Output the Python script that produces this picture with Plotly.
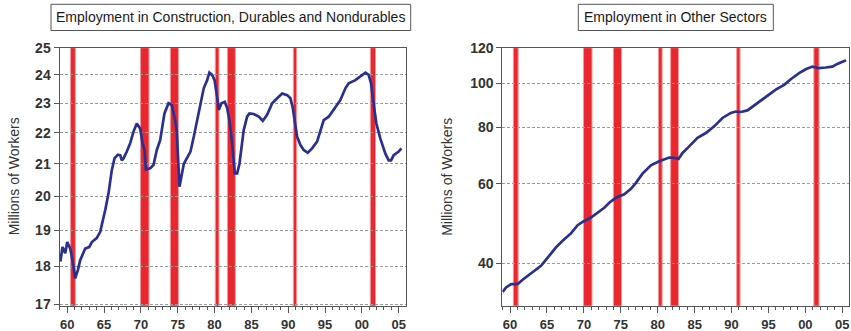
import math
import plotly.graph_objects as go

W, H = 851, 331

# Employment in construction, durables and nondurables (millions of workers)
cdn_year = [1959.07, 1959.36, 1959.73, 1960.0, 1960.4, 1960.72, 1961.08, 1961.44, 1961.76,
            1962.44, 1962.98, 1963.34, 1964.0, 1964.48, 1965.16, 1965.6, 1966.05, 1966.42,
            1966.87, 1967.2, 1967.41, 1967.64, 1968.09, 1968.55, 1969.0, 1969.44, 1969.9,
            1970.22, 1970.49, 1970.67, 1971.26, 1971.71, 1972.16, 1972.62, 1973.2, 1973.75,
            1974.19, 1974.65, 1974.87, 1975.05, 1975.24, 1975.83, 1976.28, 1976.73, 1977.18,
            1977.64, 1978.09, 1978.53, 1978.99, 1979.3, 1979.67, 1980.0, 1980.35, 1980.57,
            1980.94, 1981.38, 1981.71, 1982.02, 1982.39, 1982.74, 1983.07, 1983.38, 1983.96,
            1984.42, 1984.74, 1985.32, 1986.0, 1986.54, 1987.14, 1987.82, 1988.5, 1989.18,
            1989.86, 1990.3, 1990.6, 1990.98, 1991.21, 1991.66, 1992.1, 1992.65, 1993.24,
            1993.92, 1994.37, 1994.82, 1995.5, 1996.18, 1997.08, 1997.76, 1998.21, 1999.12,
            1999.8, 2000.48, 2000.92, 2001.25, 2001.52, 2001.97, 2002.51, 2003.19, 2003.64,
            2003.96, 2004.32, 2005.0, 2005.37]
cdn_value = [18.13, 18.53, 18.36, 18.67, 18.49, 18.17, 17.68, 17.90, 18.17,
             18.49, 18.53, 18.67, 18.78, 18.96, 19.59, 20.08, 20.80, 21.17,
             21.29, 21.27, 21.11, 21.17, 21.39, 21.66, 22.04, 22.31, 22.14,
             21.66, 21.44, 20.82, 20.86, 20.96, 21.44, 21.76, 22.65, 23.00,
             22.94, 22.42, 22.04, 21.00, 20.29, 21.00, 21.22, 21.39, 21.87,
             22.42, 23.00, 23.52, 23.81, 24.08, 24.00, 23.81, 23.22, 22.77,
             23.00, 23.05, 22.83, 22.42, 21.66, 20.70, 20.70, 21.00, 22.09,
             22.54, 22.65, 22.63, 22.54, 22.40, 22.60, 23.00, 23.17, 23.34,
             23.28, 23.17, 22.87, 22.20, 21.87, 21.60, 21.44, 21.35, 21.49,
             21.71, 22.09, 22.42, 22.54, 22.77, 23.11, 23.52, 23.70, 23.81,
             23.93, 24.08, 24.00, 23.70, 23.11, 22.31, 21.81, 21.32, 21.11,
             21.11, 21.27, 21.39, 21.49]

# Employment in other sectors (millions of workers)
oth_year = [1959.0, 1959.46, 1960.14, 1961.03, 1961.7, 1963.06, 1964.19, 1965.32, 1966.22,
            1967.12, 1968.25, 1969.15, 1969.82, 1970.96, 1971.64, 1972.76, 1973.44, 1974.34,
            1975.47, 1976.37, 1977.05, 1977.94, 1979.08, 1980.2, 1981.56, 1982.23, 1982.82,
            1983.36, 1984.26, 1985.39, 1986.52, 1987.65, 1988.77, 1989.9, 1990.58, 1991.26,
            1992.15, 1993.5, 1994.64, 1995.99, 1997.12, 1998.02, 1999.15, 2000.05, 2000.95,
            2001.85, 2002.76, 2003.65, 2004.33, 2005.24, 2005.5]
oth_value = [34.6, 35.4, 36.0, 36.0, 36.8, 38.2, 39.5, 41.6, 43.4,
             44.9, 46.6, 48.6, 49.4, 50.5, 51.4, 53.1, 54.5, 55.9,
             56.9, 58.5, 60.3, 63.2, 65.9, 67.3, 68.6, 68.5, 68.1,
             70.2, 72.6, 75.8, 77.7, 80.4, 83.9, 86.1, 86.7, 86.5,
             87.2, 90.5, 93.6, 96.9, 99.3, 102.2, 105.4, 107.5, 109.0,
             108.1, 108.5, 109.0, 110.5, 112.1, 112.6]

# Recession periods (decimal years)
rec_start = [1960.45, 1969.95, 1974.0, 1980.1, 1981.75, 1990.7, 2001.15]
rec_end = [1961.1, 1971.1, 1975.1, 1980.6, 1982.82, 1991.15, 2001.85]

# Axis ticks
x_tickvals = [1960, 1965, 1970, 1975, 1980, 1985, 1990, 1995, 2000, 2005]
x_ticktext = ["60", "65", "70", "75", "80", "85", "90", "95", "00", "05"]
left_yticks = [17, 18, 19, 20, 21, 22, 23, 24, 25]
right_yticks = [40, 60, 80, 100, 120]

TITLES = ["Employment in Construction, Durables and Nondurables", "Employment in Other Sectors"]
YTITLE = "Millions of Workers"

LINE = "#2B3090"
RED = "#E8282E"
TXT = "#333333"
FONT = "Liberation Sans, Arial, sans-serif"


def px_x(p):
    return p / W


def px_y(p):
    return 1 - p / H


fig = go.Figure()
fig.add_trace(go.Scatter(x=cdn_year, y=cdn_value, mode="lines", xaxis="x", yaxis="y",
                         line=dict(color=LINE, width=2.7), showlegend=False))
fig.add_trace(go.Scatter(x=oth_year, y=oth_value, mode="lines", xaxis="x2", yaxis="y2",
                         line=dict(color=LINE, width=2.7), showlegend=False))

top, bottom = 47.7, 306.0
common_x = dict(
    range=[1958.95, 2005.95], tickvals=x_tickvals, ticktext=x_ticktext,
    ticks="outside", ticklen=6, tickcolor="#555", tickwidth=1,
    minor=dict(dtick=1, tick0=1959, ticks="outside", ticklen=3, tickcolor="#555", showgrid=False),
    showgrid=False, zeroline=False, showline=True, linecolor="#555", linewidth=1, mirror=True,
    tickfont=dict(family=FONT, size=13, color=TXT, weight="bold"), automargin=False,
)
common_y = dict(
    type="log", ticks="outside", ticklen=5, tickcolor="#555", tickwidth=1,
    showgrid=True, gridcolor="#9a9a9a", gridwidth=1, griddash="3px,2px",
    zeroline=False, showline=True, linecolor="#555", linewidth=1, mirror=True,
    tickfont=dict(family=FONT, size=14, color=TXT, weight="bold"), automargin=False,
)

fig.update_layout(
    width=W, height=H, margin=dict(l=0, r=0, t=0, b=0),
    paper_bgcolor="white", plot_bgcolor="white",
    xaxis=dict(domain=[px_x(59.5), px_x(405.7)], anchor="y", **common_x),
    yaxis=dict(domain=[px_y(bottom), px_y(top)], anchor="x",
               range=[math.log10(16.96), math.log10(25)], tickvals=left_yticks, **common_y),
    xaxis2=dict(domain=[px_x(502.3), px_x(849.3)], anchor="y2", **common_x),
    yaxis2=dict(domain=[px_y(bottom), px_y(top)], anchor="x2",
                range=[math.log10(32.2), math.log10(120)], tickvals=right_yticks, **common_y),
)

# Recession shading in both panels
for xr, yr in (("x", "y domain"), ("x2", "y2 domain")):
    for s, e in zip(rec_start, rec_end):
        fig.add_shape(type="rect", xref=xr, yref=yr, x0=s, x1=e, y0=0, y1=1,
                      fillcolor=RED, line=dict(color="#F29A9C", width=1), layer="below")

# Title boxes above each panel
boxes = [(51, 410.7, 4.3, 30.5), (578.3, 773.3, 4.3, 30.5)]
for (x0, x1, y0, y1), title in zip(boxes, TITLES):
    fig.add_shape(type="rect", xref="paper", yref="paper",
                  x0=px_x(x0), x1=px_x(x1), y0=px_y(y1), y1=px_y(y0),
                  line=dict(color="#555", width=1), fillcolor="white")
    fig.add_annotation(xref="paper", yref="paper", x=px_x((x0 + x1) / 2), y=px_y((y0 + y1) / 2),
                       text=title, showarrow=False, xanchor="center", yanchor="middle",
                       font=dict(family=FONT, size=14, color="#1a1a1a"))

# Vertical axis titles
for xc in (13.5, 447.0):
    fig.add_annotation(xref="paper", yref="paper", x=px_x(xc), y=px_y((top + bottom) / 2),
                       text=YTITLE, textangle=-90, showarrow=False,
                       xanchor="center", yanchor="middle",
                       font=dict(family=FONT, size=14, color=TXT))

fig.write_html("out.html")
